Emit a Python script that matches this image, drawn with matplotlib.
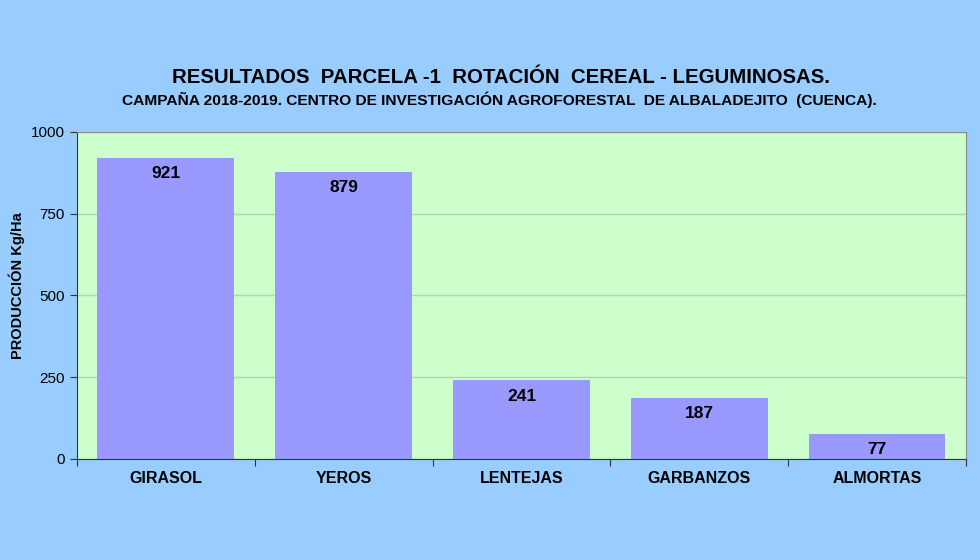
import matplotlib.pyplot as plt
import numpy as np

plt.rcParams['font.family'] = ['Liberation Sans', 'DejaVu Sans']

cultivos = ['GIRASOL', 'YEROS', 'LENTEJAS', 'GARBANZOS', 'ALMORTAS']
produccion = [921, 879, 241, 187, 77]
yticks = [0, 250, 500, 750, 1000]

fig = plt.figure(figsize=(9.8, 5.6), dpi=100)
fig.patch.set_facecolor('#99ccff')
ax = fig.add_axes([0.0786, 0.1804, 0.907, 0.584])   # [left,bottom,width,height]
ax.set_facecolor('#ccffcc')

x = np.arange(len(cultivos))
bars = ax.bar(x, produccion, width=0.77, color='#9999ff', zorder=2)

# value labels inside the top of each bar
for xi, v in zip(x, produccion):
    ax.annotate(str(v), (xi, v), xytext=(0, -11.5), textcoords='offset points',
                ha='center', va='center', fontsize=12.5, fontweight='bold', zorder=3)

ax.set_xlim(-0.5, len(cultivos) - 0.5)
ax.set_ylim(0, 1000)
ax.set_yticks(yticks)
ax.set_yticklabels([str(t) for t in yticks], fontsize=11)
ax.yaxis.grid(True, color='#bccfbc', linewidth=1, zorder=1)
ax.set_axisbelow(True)

# category ticks between groups, labels centered
ax.set_xticks(np.arange(len(cultivos) + 1) - 0.5)
ax.set_xticklabels([])
ax.set_xticks(x, minor=True)
ax.set_xticklabels(cultivos, minor=True, fontsize=11.5, fontweight='bold')
ax.tick_params(axis='x', which='minor', length=0, pad=9)
ax.tick_params(axis='x', which='major', length=5, color='#333333')
ax.tick_params(axis='y', length=5, color='#333333', pad=4)

for s in ['left', 'bottom']:
    ax.spines[s].set_color('#333333')
for s in ['top', 'right']:
    ax.spines[s].set_color('#8a8a8a')

ax.set_ylabel('PRODUCCIÓN Kg/Ha', fontsize=10.5, fontweight='bold')
ax.yaxis.set_label_coords(-0.059, 0.53)

fig.text(0.511, 0.862, 'RESULTADOS  PARCELA -1  ROTACIÓN  CEREAL - LEGUMINOSAS.',
         ha='center', va='center', fontsize=14.7, fontweight='bold')
fig.text(0.510, 0.821, 'CAMPAÑA 2018-2019. CENTRO DE INVESTIGACIÓN AGROFORESTAL  DE ALBALADEJITO  (CUENCA).',
         ha='center', va='center', fontsize=11.15, fontweight='bold')

fig.savefig('out.png', dpi=100, facecolor=fig.get_facecolor())
